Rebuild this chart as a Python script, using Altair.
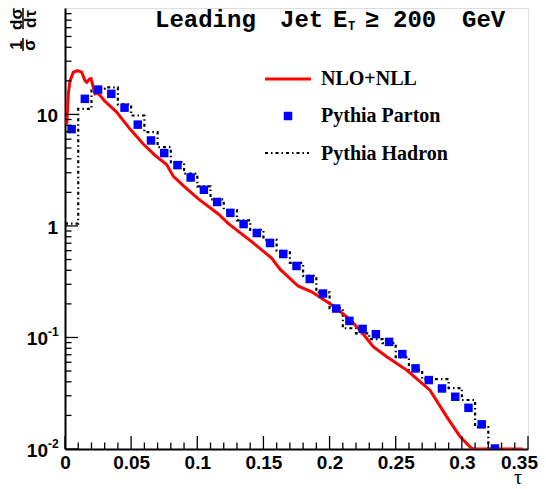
import altair as alt
import pandas as pd

W, H = 463, 441

# ---------------- data ----------------
parton_tau = [0.005, 0.015, 0.025, 0.035, 0.045, 0.055, 0.065, 0.075, 0.085, 0.095,
              0.105, 0.115, 0.125, 0.135, 0.145, 0.155, 0.165, 0.175, 0.185, 0.195,
              0.205, 0.215, 0.225, 0.235, 0.245, 0.255, 0.265, 0.275, 0.285, 0.295,
              0.305, 0.315, 0.325]
parton_val = [7.38, 13.8, 16.7, 15.3, 11.5, 8.1, 5.84, 4.50, 3.51, 2.72,
              2.11, 1.64, 1.31, 1.04, 0.864, 0.703, 0.560, 0.4375, 0.3346, 0.2477,
              0.1818, 0.1408, 0.1194, 0.107, 0.0913, 0.0709, 0.0528, 0.0415, 0.0349, 0.0294,
              0.0234, 0.01664, 0.0101]

hadron_edge = [0.00, 0.01, 0.02, 0.03, 0.04, 0.05, 0.06, 0.07, 0.08, 0.09,
               0.10, 0.11, 0.12, 0.13, 0.14, 0.15, 0.16, 0.17, 0.18, 0.19,
               0.20, 0.21, 0.22, 0.23, 0.24, 0.25, 0.26, 0.27, 0.28, 0.29,
               0.30, 0.31, 0.32, 0.33]
hadron_val = [1.05, 11.2, 17.0, 17.5, 12.3, 9.78, 6.93, 5.09, 3.73, 2.94,
              2.26, 1.73, 1.39, 1.12, 0.923, 0.751, 0.598, 0.467, 0.357, 0.254,
              0.183, 0.121, 0.109, 0.0966, 0.0889, 0.0666, 0.0510, 0.0423, 0.0423, 0.0352,
              0.0275, 0.0157, 0.0100]

nll_tau = [0.0013, 0.0025, 0.0038, 0.0063, 0.0095, 0.0126, 0.0151, 0.0164, 0.0184, 0.0197,
           0.0214, 0.0227, 0.0244, 0.0265, 0.030, 0.039, 0.049, 0.059, 0.068, 0.0768,
           0.0819, 0.0894, 0.1008, 0.1159, 0.1235, 0.1411, 0.1562, 0.1625, 0.1764, 0.1865,
           0.1965, 0.204, 0.2154, 0.2242, 0.233, 0.2432, 0.2583, 0.2759, 0.2885, 0.2986,
           0.3074, 0.310, 0.346]
nll_val = [8.2, 15.3, 20.1, 23.9, 24.7, 23.9, 20.1, 19.4, 20.8, 21.0,
           17.5, 15.3, 15.6, 14.8, 13.2, 10.5, 7.43, 5.45, 4.29, 3.55,
           2.78, 2.30, 1.75, 1.28, 1.05, 0.723, 0.515, 0.41, 0.288, 0.257,
           0.215, 0.188, 0.145, 0.112, 0.0827, 0.0673, 0.051, 0.0337, 0.0195, 0.0129,
           0.0101, 0.0100, 0.0100]

x_major = [0.0, 0.05, 0.10, 0.15, 0.20, 0.25, 0.30, 0.35]
x_last_label = [0.35]
x_last_text = ["0.35"]
x_minor = [0.01, 0.02, 0.03, 0.04, 0.06, 0.07, 0.08, 0.09, 0.11, 0.12, 0.13, 0.14,
           0.16, 0.17, 0.18, 0.19, 0.21, 0.22, 0.23, 0.24, 0.26, 0.27, 0.28, 0.29,
           0.31, 0.32, 0.33, 0.34]
y_major = [0.01, 0.1, 1, 10]
y_minor = [0.02, 0.03, 0.04, 0.05, 0.06, 0.07, 0.08, 0.09,
           0.2, 0.3, 0.4, 0.5, 0.6, 0.7, 0.8, 0.9,
           2, 3, 4, 5, 6, 7, 8, 9,
           20, 30, 40, 50, 60, 70, 80]
y_plain_vals = [1, 10]
y_plain_text = ["1", "10"]
y_sup_vals = [0.01, 0.1]
y_sup_text = ["-2", "-1"]

# ---------------- scales / axes ----------------
xs = alt.Scale(domain=[0, 0.35], nice=False, zero=False)
ys = alt.Scale(type="log", domain=[0.01, 90], nice=False)
x_axis = alt.Axis(values=x_major[:-1], format="~g", ticks=False, grid=False, title=None,
                  labelFont="Liberation Sans", labelFontWeight="bold", labelFontSize=19,
                  labelColor="black", labelPadding=4, domainColor="black", domainWidth=2,
                  labelFlush=False, labelOverlap=False)
y_axis = alt.Axis(labels=False, ticks=False, grid=False, title=None,
                  domainColor="black", domainWidth=2)


def X(f):
    return alt.X(f, type="quantitative", scale=xs, axis=x_axis)


def Y(f):
    return alt.Y(f, type="quantitative", scale=ys, axis=y_axis)


parton_df = pd.DataFrame({"x": parton_tau, "y": parton_val})
hadron_df = pd.DataFrame({"x": hadron_edge, "y": hadron_val + [hadron_val[-1]]})
nll_df = pd.DataFrame({"x": nll_tau, "y": nll_val})
one = pd.DataFrame({"a": [0]})

HDASH = [3, 3, 1.5, 3]

layers = []

# hadron histogram (step)
layers.append(alt.Chart(hadron_df).mark_line(
    interpolate="step-after", color="black", strokeWidth=2.2, strokeDash=HDASH, clip=True
).encode(x=X("x"), y=Y("y")))

# NLO+NLL curve
layers.append(alt.Chart(nll_df).mark_line(color="#ff0000", strokeWidth=3, clip=True)
              .encode(x=X("x"), y=Y("y")))

# Pythia parton squares
layers.append(alt.Chart(parton_df).mark_square(color="#0000ff", size=72, opacity=1, clip=True)
              .encode(x=X("x"), y=Y("y")))

# ticks (inside frame, ROOT style)
layers.append(alt.Chart(pd.DataFrame({"x": x_major})).mark_rule(color="black", strokeWidth=1.3)
              .encode(x=X("x"), y=alt.value(H), y2=alt.value(H - 13)))
layers.append(alt.Chart(pd.DataFrame({"x": x_minor})).mark_rule(color="black", strokeWidth=1.3)
              .encode(x=X("x"), y=alt.value(H), y2=alt.value(H - 6.5)))
layers.append(alt.Chart(pd.DataFrame({"y": y_major})).mark_rule(color="black", strokeWidth=1.3)
              .encode(y=Y("y"), x=alt.value(0), x2=alt.value(13)))
layers.append(alt.Chart(pd.DataFrame({"y": y_minor})).mark_rule(color="black", strokeWidth=1.3)
              .encode(y=Y("y"), x=alt.value(0), x2=alt.value(6.5)))

# last x label (kept inside the page)
lab = dict(font="Liberation Sans", fontWeight="bold", color="black")
layers.append(alt.Chart(pd.DataFrame({"x": x_last_label, "t": x_last_text})).mark_text(
    align="right", baseline="alphabetic", fontSize=19, dx=10, **lab
).encode(x=X("x"), y=alt.value(H + 20), text="t:N"))

# y tick labels
layers.append(alt.Chart(pd.DataFrame({"y": y_plain_vals, "t": y_plain_text})).mark_text(
    align="right", baseline="middle", fontSize=19, dx=0, dy=2, **lab
).encode(y=Y("y"), x=alt.value(-7), text="t:N"))
layers.append(alt.Chart(pd.DataFrame({"y": y_sup_vals, "t": ["10", "10"]})).mark_text(
    align="right", baseline="middle", fontSize=19, dy=2, **lab
).encode(y=Y("y"), x=alt.value(-17), text="t:N"))
layers.append(alt.Chart(pd.DataFrame({"y": y_sup_vals, "t": y_sup_text})).mark_text(
    align="left", baseline="middle", fontSize=12, dy=-5, **lab
).encode(y=Y("y"), x=alt.value(-17), text="t:N"))

# y title: (1/sigma) dsigma/dtau, rotated
yt = dict(font="Liberation Sans", fontWeight="bold", fontSize=17, color="black",
          angle=270, align="center", baseline="middle")
for txt, xx, yy in [("1", -48, 37), ("dσ", -48, 11), ("σ", -35, 37), ("dτ", -34, 11)]:
    layers.append(alt.Chart(one).mark_text(**yt).encode(
        x=alt.value(xx), y=alt.value(yy), text=alt.value(txt)))
layers.append(alt.Chart(one).mark_rule(color="black", strokeWidth=1.5).encode(
    x=alt.value(-42), y=alt.value(30), y2=alt.value(43)))
layers.append(alt.Chart(one).mark_rule(color="black", strokeWidth=1.5).encode(
    x=alt.value(-42), y=alt.value(0), y2=alt.value(21)))

# x title
layers.append(alt.Chart(one).mark_text(font="Liberation Serif", fontSize=20, color="black",
                                       align="center", baseline="alphabetic").encode(
    x=alt.value(453), y=alt.value(H + 35), text=alt.value("τ")))

# header text, monospace bold
ht = dict(font="Liberation Mono", fontWeight="bold", fontSize=24, color="black",
          align="left", baseline="alphabetic")
for txt, xx in [("Leading", 90), ("Jet", 215), ("E", 268), ("≥", 300), ("200", 328), ("GeV", 397)]:
    layers.append(alt.Chart(one).mark_text(**ht).encode(
        x=alt.value(xx), y=alt.value(19), text=alt.value(txt)))
layers.append(alt.Chart(one).mark_text(font="Liberation Mono", fontWeight="bold", fontSize=12,
                                       color="black", align="left", baseline="alphabetic").encode(
    x=alt.value(283), y=alt.value(22), text=alt.value("T")))

# legend
layers.append(alt.Chart(one).mark_rule(color="#ff0000", strokeWidth=3).encode(
    x=alt.value(200), x2=alt.value(246), y=alt.value(71)))
layers.append(alt.Chart(one).mark_square(color="#0000ff", size=72, opacity=1).encode(
    x=alt.value(223), y=alt.value(108)))
layers.append(alt.Chart(one).mark_rule(color="black", strokeWidth=2.2, strokeDash=HDASH).encode(
    x=alt.value(200), x2=alt.value(244), y=alt.value(145)))
lt = dict(font="Liberation Serif", fontWeight="bold", fontSize=20, color="black",
          align="left", baseline="alphabetic")
for txt, yy in [("NLO+NLL", 77), ("Pythia Parton", 114), ("Pythia Hadron", 152)]:
    layers.append(alt.Chart(one).mark_text(**lt).encode(
        x=alt.value(256), y=alt.value(yy), text=alt.value(txt)))

chart = alt.layer(*layers).properties(
    width=W, height=H,
    padding={"left": 57, "top": 0, "right": 10, "bottom": 40},
    autosize=alt.AutoSizeParams(type="none"),
).configure_view(stroke="black", strokeWidth=1.5).configure(background="white")

chart.save("out.html", embed_options={"renderer": "svg", "actions": False})
